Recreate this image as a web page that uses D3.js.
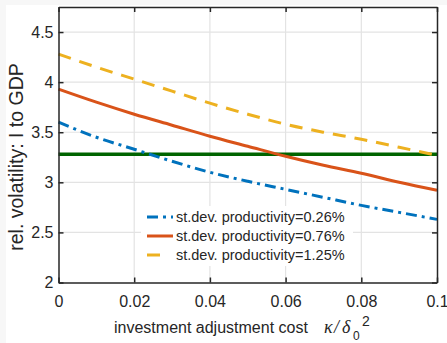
<!DOCTYPE html>
<html>
<head>
<meta charset="utf-8">
<script src="https://cdn.jsdelivr.net/npm/d3@7"></script>
<style>
  html, body { margin: 0; padding: 0; background: #f7f7f7; }
  svg { display: block; }
  text { font-family: "Liberation Sans", Arial, Helvetica, sans-serif; fill: #262626; }
</style>
</head>
<body>
<svg id="chart" width="447" height="343"></svg>
<script>
// investment adjustment cost grid
const kappa = [0, 0.01, 0.02, 0.03, 0.04, 0.05, 0.06, 0.07, 0.08, 0.09, 0.1];
// relative volatility of investment to GDP, one series per productivity s.d.
const volLow  = [3.60, 3.45, 3.33, 3.21, 3.10, 3.01, 2.93, 2.85, 2.77, 2.70, 2.63];
const volMid  = [3.93, 3.80, 3.68, 3.57, 3.46, 3.36, 3.26, 3.17, 3.09, 3.00, 2.92];
const volHigh = [4.28, 4.15, 4.03, 3.91, 3.79, 3.68, 3.58, 3.50, 3.43, 3.35, 3.27];
const dataTarget = 3.28;
const seriesNames = ["st.dev. productivity=0.26%", "st.dev. productivity=0.76%", "st.dev. productivity=1.25%"];
const xTicks = [0, 0.02, 0.04, 0.06, 0.08, 0.1];
const xTickLabels = ["0", "0.02", "0.04", "0.06", "0.08", "0.1"];
const yTicks = [2, 2.5, 3, 3.5, 4, 4.5];
const yTickLabels = ["2", "2.5", "3", "3.5", "4", "4.5"];

const svg = d3.select("#chart");
svg.append("rect").attr("x", 6).attr("y", 5).attr("width", 441).attr("height", 338).attr("fill", "#fff");

const m = { left: 58.5, right: 437, top: 7, bottom: 282.5 };
const x = d3.scaleLinear().domain([0, 0.1]).range([m.left, m.right]);
const y = d3.scaleLinear().domain([2, 4.75]).range([m.bottom, m.top]);

// grid
const g = svg.append("g");
g.selectAll(".gx").data(xTicks.slice(1, -1)).join("line")
  .attr("x1", d => x(d)).attr("x2", d => x(d)).attr("y1", m.top).attr("y2", m.bottom)
  .attr("stroke", "#e3e3e3").attr("stroke-width", 1.2);
g.selectAll(".gy").data(yTicks.slice(1)).join("line")
  .attr("y1", d => y(d)).attr("y2", d => y(d)).attr("x1", m.left).attr("x2", m.right)
  .attr("stroke", "#e3e3e3").attr("stroke-width", 1.2);

const series = [
  { vals: volLow,  color: "#0072BD", dash: "11,5,3,5" },
  { vals: volMid,  color: "#D95319", dash: null },
  { vals: volHigh, color: "#EDB120", dash: "13,9" }
];

const line = d3.line().x(d => x(d[0])).y(d => y(d[1])).curve(d3.curveMonotoneX);
const plot = svg.append("g");
plot.append("line")
  .attr("x1", x(0)).attr("x2", x(0.1)).attr("y1", y(dataTarget)).attr("y2", y(dataTarget))
  .attr("stroke", "#006400").attr("stroke-width", 3.5);
series.forEach(s => {
  plot.append("path")
    .attr("d", line(kappa.map((k, i) => [k, s.vals[i]])))
    .attr("fill", "none").attr("stroke", s.color).attr("stroke-width", 3)
    .attr("stroke-dasharray", s.dash);
});

// legend
const lg = svg.append("g");
lg.append("rect").attr("x", 141).attr("y", 206).attr("width", 212).attr("height", 60).attr("fill", "#fff");
const rowY = [217, 236, 255];
series.forEach((s, i) => {
  lg.append("line").attr("x1", 147).attr("x2", i === 2 ? 160 : 173).attr("y1", rowY[i]).attr("y2", rowY[i])
    .attr("stroke", s.color).attr("stroke-width", 3)
    .attr("stroke-dasharray", i === 0 ? "11,5,3,5" : null);
  lg.append("text").attr("x", 176).attr("y", rowY[i] + 5).attr("font-size", 14.5).text(seriesNames[i]);
});

// axes box
const axisColor = "#262626";
const xAxisB = d3.axisBottom(x).tickValues(xTicks).tickFormat((d, i) => xTickLabels[i]).tickSizeInner(-5).tickSizeOuter(0).tickPadding(13);
const xAxisT = d3.axisTop(x).tickValues(xTicks).tickFormat("").tickSizeInner(-5).tickSizeOuter(0);
const yAxisL = d3.axisLeft(y).tickValues(yTicks).tickFormat((d, i) => yTickLabels[i]).tickSizeInner(-5).tickSizeOuter(0).tickPadding(5);
const yAxisR = d3.axisRight(y).tickValues(yTicks).tickFormat("").tickSizeInner(-5).tickSizeOuter(0);

function style(sel) {
  sel.select(".domain").attr("stroke", axisColor).attr("stroke-width", 1.5);
  sel.selectAll(".tick line").attr("stroke", axisColor).attr("stroke-width", 1.5);
  sel.selectAll(".tick text").attr("fill", axisColor).style("font-size", "16px")
    .style("font-family", '"Liberation Sans", Arial, sans-serif');
}
svg.append("g").attr("transform", `translate(0,${m.bottom})`).call(xAxisB).call(style);
svg.append("g").attr("transform", `translate(0,${m.top})`).call(xAxisT).call(style);
svg.append("g").attr("transform", `translate(${m.left},0)`).call(yAxisL).call(style);
svg.append("g").attr("transform", `translate(${m.right},0)`).call(yAxisR).call(style);

// axis titles
const xl = svg.append("text").attr("y", 333).attr("font-size", 16);
xl.append("tspan").attr("x", 114).text("investment adjustment cost");
const serif = '"Liberation Serif", "Times New Roman", serif';
xl.append("tspan").attr("x", 324).attr("font-family", serif).attr("font-style", "italic").attr("font-size", 18).text("κ");
xl.append("tspan").attr("x", 334).attr("font-family", serif).attr("font-style", "italic").attr("font-size", 18).text("/");
xl.append("tspan").attr("x", 342).attr("font-family", serif).attr("font-style", "italic").attr("font-size", 18).text("δ");
xl.append("tspan").attr("x", 353).attr("y", 340).attr("font-size", 12).text("0");
xl.append("tspan").attr("x", 362).attr("y", 326).attr("font-size", 14).text("2");

svg.append("text")
  .attr("transform", `translate(23,157) rotate(-90)`)
  .attr("text-anchor", "middle").attr("font-size", 19.5)
  .text("rel. volatility: I to GDP");
</script>
</body>
</html>
